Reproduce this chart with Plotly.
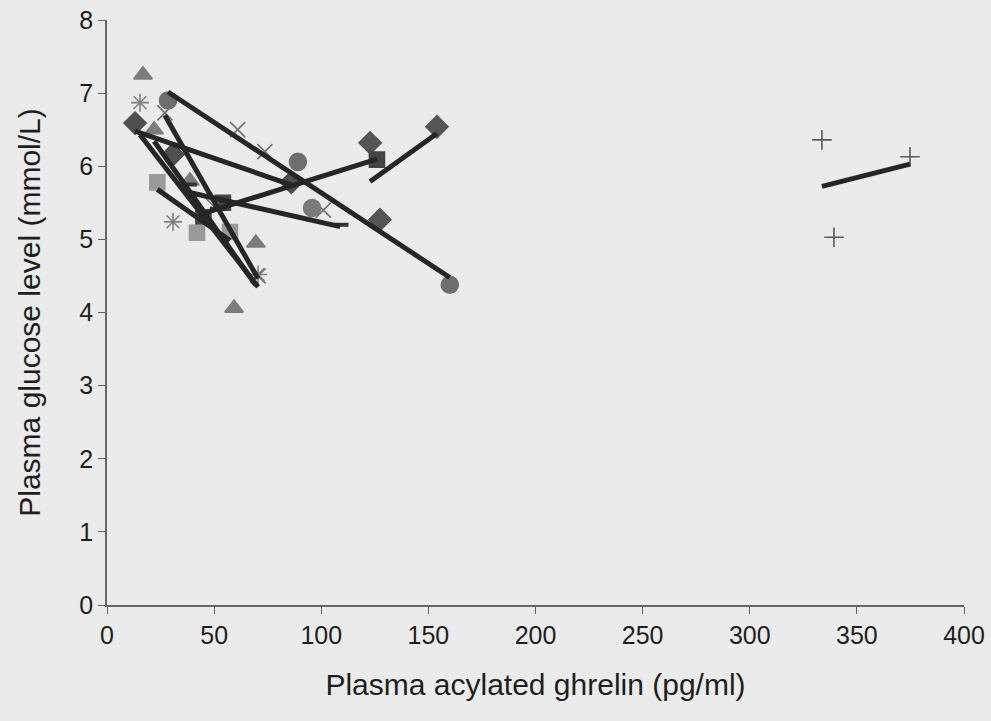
import numpy as np
import plotly.graph_objects as go

# Plasma acylated ghrelin (pg/ml) vs plasma glucose (mmol/L), one series per subject
sub_diamond_a_x = [13.1, 30.8, 86.0]
sub_diamond_a_y = [6.59, 6.16, 5.78]
sub_diamond_b_x = [122.8, 127.4, 154.0]
sub_diamond_b_y = [6.32, 5.27, 6.54]
sub_square_a_x = [45.0, 54.1, 126.0]
sub_square_a_y = [5.30, 5.50, 6.09]
sub_square_b_x = [23.5, 42.0, 57.4]
sub_square_b_y = [5.78, 5.09, 5.10]
sub_triangle_a_x = [22.0, 69.5, 59.3]
sub_triangle_a_y = [6.50, 4.95, 4.06]
sub_triangle_b_x = [16.8, 38.7]
sub_triangle_b_y = [7.25, 5.80]
sub_x_a_x = [27.0, 50.0, 70.5]
sub_x_a_y = [6.73, 5.45, 4.50]
sub_x_b_x = [61.0, 73.7, 101.0]
sub_x_b_y = [6.50, 6.20, 5.40]
sub_star_a_x = [15.4, 30.8, 70.5]
sub_star_a_y = [6.87, 5.24, 4.52]
sub_circle_a_x = [28.5, 89.1, 160.0]
sub_circle_a_y = [6.90, 6.06, 4.38]
sub_circle_b_x = [95.7]
sub_circle_b_y = [5.43]
sub_dash_x = [38.0, 52.0, 108.8]
sub_dash_y = [5.75, 5.42, 5.20]
sub_plus_x = [333.7, 374.8, 339.3]
sub_plus_y = [6.36, 6.13, 5.03]

x_ticks = [0, 50, 100, 150, 200, 250, 300, 350, 400]
y_ticks = [0, 1, 2, 3, 4, 5, 6, 7, 8]

subjects = [
    # (x, y, symbol, colour, size, with trendline)
    (sub_diamond_a_x, sub_diamond_a_y, "diamond", "#4f4f4f", 17, True),
    (sub_diamond_b_x, sub_diamond_b_y, "diamond", "#555555", 17, True),
    (sub_square_a_x, sub_square_a_y, "square", "#444444", 15, True),
    (sub_square_b_x, sub_square_b_y, "square", "#9a9a9a", 15, True),
    (sub_triangle_a_x, sub_triangle_a_y, "triangle-up", "#7c7c7c", 16, True),
    (sub_triangle_b_x, sub_triangle_b_y, "triangle-up", "#7c7c7c", 16, False),
    (sub_x_a_x, sub_x_a_y, "x-thin-open", "#707070", 15, True),
    (sub_x_b_x, sub_x_b_y, "x-thin-open", "#707070", 15, False),
    (sub_star_a_x, sub_star_a_y, "asterisk-open", "#808080", 15, True),
    (sub_circle_a_x, sub_circle_a_y, "circle", "#6e6e6e", 17, True),
    (sub_circle_b_x, sub_circle_b_y, "circle", "#7a7a7a", 17, False),
    (sub_dash_x, sub_dash_y, "line-ew-open", "#333333", 12, True),
    (sub_plus_x, sub_plus_y, "cross-thin-open", "#5a5a5a", 14, True),
]

fig = go.Figure()

for xs, ys, sym, col, size, trend in subjects:
    lw = 4 if sym == "line-ew-open" else 1.6
    fig.add_trace(go.Scatter(
        x=xs, y=ys, mode="markers",
        marker=dict(symbol=sym, size=size, color=col,
                    line=dict(color=col, width=lw)),
        showlegend=False, hoverinfo="x+y",
    ))

# Least-squares trendline for each subject across its own ghrelin range
for xs, ys, sym, col, size, trend in subjects:
    if not trend:
        continue
    xa = np.array(xs, dtype=float)
    ya = np.array(ys, dtype=float)
    slope, intercept = np.polyfit(xa, ya, 1)
    xl = np.array([xa.min(), xa.max()])
    fig.add_trace(go.Scatter(
        x=xl, y=slope * xl + intercept, mode="lines",
        line=dict(color="#262626", width=5),
        showlegend=False, hoverinfo="skip",
    ))

font_family = "Liberation Sans, Arial, sans-serif"
tick_font = dict(family=font_family, size=25, color="#1e1e1e")
title_font = dict(family=font_family, size=30, color="#1e1e1e")

fig.update_layout(
    width=991, height=721,
    margin=dict(l=107, r=27, t=20, b=116),
    paper_bgcolor="#ebebeb",
    plot_bgcolor="#ebebeb",
    font=tick_font,
    xaxis=dict(
        range=[0, 400], tickvals=x_ticks, ticks="outside", ticklen=7,
        tickcolor="#666666", showline=True, linecolor="#666666", linewidth=1.5,
        showgrid=False, zeroline=False, tickfont=tick_font, automargin=False,
        title=dict(text="Plasma acylated ghrelin (pg/ml)", font=title_font, standoff=26),
    ),
    yaxis=dict(
        range=[0, 8], tickvals=y_ticks, ticks="outside", ticklen=7,
        tickcolor="#666666", showline=True, linecolor="#666666", linewidth=1.5,
        showgrid=False, zeroline=False, tickfont=tick_font, automargin=False,
        title=dict(text="Plasma glucose level (mmol/L)", font=title_font, standoff=30),
    ),
)

fig.write_html("out.html")
